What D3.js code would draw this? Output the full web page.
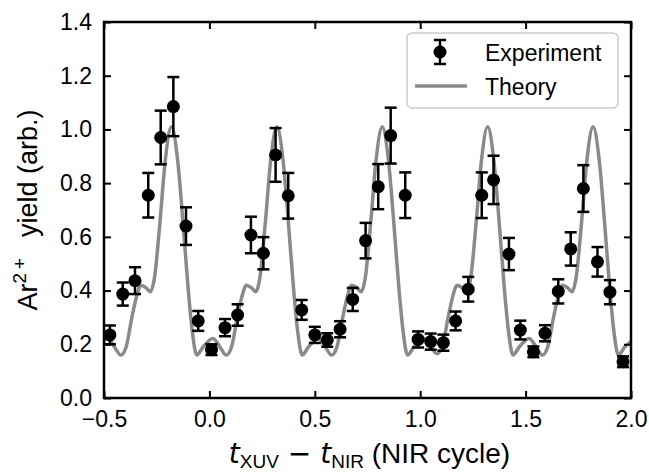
<!DOCTYPE html>
<html>
<head>
<meta charset="utf-8">
<script src="https://cdn.jsdelivr.net/npm/d3@7"></script>
<style>
  body { margin: 0; background: #fff; }
  svg { font-family: "Liberation Sans", Arial, sans-serif; }
</style>
</head>
<body>
<div class="chart"></div>
<script>
// experiment points (delay in NIR cycles, yield, error)
const expX = [-0.472, -0.411, -0.353, -0.29, -0.231, -0.171, -0.111, -0.053, 0.01, 0.074,
  0.134, 0.197, 0.256, 0.314, 0.374, 0.438, 0.50, 0.559, 0.62, 0.68,
  0.741, 0.801, 0.86, 0.929, 0.99, 1.05, 1.11, 1.168, 1.228, 1.292,
  1.348, 1.421, 1.475, 1.537, 1.592, 1.655, 1.714, 1.774, 1.841, 1.90, 1.962];
const expY = [0.235, 0.387, 0.437, 0.755, 0.97, 1.085, 0.64, 0.287, 0.18, 0.262,
  0.309, 0.607, 0.539, 0.905, 0.753, 0.328, 0.235, 0.216, 0.256, 0.367,
  0.586, 0.787, 0.977, 0.755, 0.218, 0.21, 0.206, 0.287, 0.405, 0.755,
  0.812, 0.536, 0.253, 0.172, 0.241, 0.397, 0.555, 0.78, 0.507, 0.394, 0.135];
const expErr = [0.035, 0.043, 0.05, 0.083, 0.10, 0.11, 0.07, 0.037, 0.02, 0.032,
  0.04, 0.068, 0.06, 0.10, 0.085, 0.037, 0.03, 0.025, 0.03, 0.043,
  0.066, 0.084, 0.104, 0.085, 0.03, 0.03, 0.03, 0.035, 0.046, 0.085,
  0.09, 0.06, 0.035, 0.02, 0.03, 0.045, 0.062, 0.087, 0.055, 0.045, 0.02];

// theory curve
const theoryX = [-0.5, -0.483,
  -0.45, -0.42, -0.395, -0.37, -0.345, -0.325, -0.30, -0.28, -0.26, -0.235, -0.21, -0.18, -0.15, -0.125, -0.10, -0.08, -0.06, -0.03, 0.017,
  0.05, 0.08, 0.105, 0.13, 0.155, 0.175, 0.20, 0.22, 0.24, 0.265, 0.29, 0.32, 0.35, 0.375, 0.40, 0.42, 0.44, 0.47, 0.517,
  0.55, 0.58, 0.605, 0.63, 0.655, 0.675, 0.70, 0.72, 0.74, 0.765, 0.79, 0.82, 0.85, 0.875, 0.90, 0.92, 0.94, 0.97, 1.017,
  1.05, 1.08, 1.105, 1.13, 1.155, 1.175, 1.20, 1.22, 1.24, 1.265, 1.29, 1.32, 1.35, 1.375, 1.40, 1.42, 1.44, 1.47, 1.517,
  1.55, 1.58, 1.605, 1.63, 1.655, 1.675, 1.70, 1.72, 1.74, 1.765, 1.79, 1.82, 1.85, 1.875, 1.90, 1.92, 1.94, 1.97, 2.0];
const theoryY = [0.215, 0.222,
  0.19, 0.16, 0.19, 0.29, 0.38, 0.42, 0.41, 0.396, 0.45, 0.65, 0.88, 1.01, 0.88, 0.65, 0.40, 0.24, 0.16, 0.19, 0.222,
  0.19, 0.16, 0.19, 0.29, 0.38, 0.42, 0.41, 0.396, 0.45, 0.65, 0.88, 1.01, 0.88, 0.65, 0.40, 0.24, 0.16, 0.19, 0.222,
  0.19, 0.16, 0.19, 0.29, 0.38, 0.42, 0.41, 0.396, 0.45, 0.65, 0.88, 1.01, 0.88, 0.65, 0.40, 0.24, 0.16, 0.19, 0.222,
  0.19, 0.165, 0.19, 0.29, 0.38, 0.42, 0.41, 0.396, 0.45, 0.65, 0.88, 1.01, 0.88, 0.65, 0.40, 0.24, 0.16, 0.19, 0.222,
  0.19, 0.16, 0.19, 0.29, 0.38, 0.42, 0.41, 0.396, 0.45, 0.65, 0.88, 1.01, 0.88, 0.65, 0.40, 0.24, 0.16, 0.19, 0.21];

const xTicks = [-0.5, 0.0, 0.5, 1.0, 1.5, 2.0];
const yTicks = [0.0, 0.2, 0.4, 0.6, 0.8, 1.0, 1.2, 1.4];

const width = 649;
const height = 474;
const mLeft = 104, mRight = 631, mTop = 22, mBottom = 398;

const svg = d3.select('.chart')
  .append('svg')
  .attr('width', width)
  .attr('height', height)

const x = d3.scaleLinear().domain([-0.5, 2.0]).range([mLeft, mRight]);
const y = d3.scaleLinear().domain([0, 1.4]).range([mBottom, mTop]);
const fmt = d3.format('.1f');

// theory line
const theory = theoryX.map((d, i) => ({x: d, y: theoryY[i]}));
svg.append('path')
  .datum(theory)
  .attr('fill', 'none')
  .attr('stroke', '#8a8a8a')
  .attr('stroke-width', 3.5)
  .attr('d', d3.line().x(d => x(d.x)).y(d => y(d.y)).curve(d3.curveMonotoneX));

// experiment with error bars
const points = expX.map((d, i) => ({x: d, y: expY[i], e: expErr[i]}));
const pts = svg.append('g').selectAll('g')
  .data(points)
  .enter()
  .append('g')
  .attr('stroke', '#000')
  .attr('stroke-width', 2.5);

pts.append('line')
  .attr('x1', d => x(d.x)).attr('x2', d => x(d.x))
  .attr('y1', d => y(d.y - d.e)).attr('y2', d => y(d.y + d.e));
pts.append('line')
  .attr('x1', d => x(d.x) - 6).attr('x2', d => x(d.x) + 6)
  .attr('y1', d => y(d.y + d.e)).attr('y2', d => y(d.y + d.e));
pts.append('line')
  .attr('x1', d => x(d.x) - 6).attr('x2', d => x(d.x) + 6)
  .attr('y1', d => y(d.y - d.e)).attr('y2', d => y(d.y - d.e));
pts.append('circle')
  .attr('cx', d => x(d.x))
  .attr('cy', d => y(d.y))
  .attr('r', 6.5)
  .attr('stroke', 'none')
  .attr('fill', '#000');

// axes, ticks pointing inward on all sides
function styleAxis(g) {
  g.select('.domain').remove();
  g.selectAll('.tick line').attr('stroke', '#000').attr('stroke-width', 2);
  g.selectAll('.tick text').attr('font-size', 23).attr('fill', '#000')
    .attr('font-family', '"Liberation Sans", Arial, sans-serif');
}

svg.append('g')
  .attr('transform', `translate(0,${mBottom})`)
  .call(d3.axisBottom(x).tickValues(xTicks).tickFormat(fmt).tickSize(-7).tickPadding(13))
  .call(styleAxis);
svg.append('g')
  .attr('transform', `translate(0,${mTop})`)
  .call(d3.axisTop(x).tickValues(xTicks).tickFormat('').tickSize(-7))
  .call(styleAxis);
svg.append('g')
  .attr('transform', `translate(${mLeft},0)`)
  .call(d3.axisLeft(y).tickValues(yTicks).tickFormat(fmt).tickSize(-7).tickPadding(12))
  .call(styleAxis);
svg.append('g')
  .attr('transform', `translate(${mRight},0)`)
  .call(d3.axisRight(y).tickValues(yTicks).tickFormat('').tickSize(-7))
  .call(styleAxis);

svg.append('rect')
  .attr('x', mLeft).attr('y', mTop)
  .attr('width', mRight - mLeft).attr('height', mBottom - mTop)
  .attr('fill', 'none')
  .attr('stroke', '#000')
  .attr('stroke-width', 2.5);

// legend
const lg = svg.append('g');
lg.append('rect')
  .attr('x', 407).attr('y', 33)
  .attr('width', 211).attr('height', 75)
  .attr('rx', 5)
  .attr('fill', '#fff').attr('fill-opacity', 0.8)
  .attr('stroke', '#cccccc').attr('stroke-width', 1.5);
lg.append('line').attr('x1', 440).attr('x2', 440).attr('y1', 40).attr('y2', 64)
  .attr('stroke', '#000').attr('stroke-width', 2.5);
lg.append('line').attr('x1', 434).attr('x2', 446).attr('y1', 40).attr('y2', 40)
  .attr('stroke', '#000').attr('stroke-width', 2.5);
lg.append('line').attr('x1', 434).attr('x2', 446).attr('y1', 64).attr('y2', 64)
  .attr('stroke', '#000').attr('stroke-width', 2.5);
lg.append('circle').attr('cx', 440).attr('cy', 52).attr('r', 6.5).attr('fill', '#000');
lg.append('line').attr('x1', 415).attr('x2', 467).attr('y1', 86).attr('y2', 86)
  .attr('stroke', '#8a8a8a').attr('stroke-width', 3.5);
lg.append('text').attr('x', 485).attr('y', 61).attr('font-size', 23).text('Experiment');
lg.append('text').attr('x', 485).attr('y', 95).attr('font-size', 23).text('Theory');

// axis labels
const xl = svg.append('text')
  .attr('x', (mLeft + mRight) / 2 + 2)
  .attr('y', 463)
  .attr('text-anchor', 'middle')
  .attr('font-size', 28);
xl.append('tspan').attr('font-family', '"DejaVu Sans"').attr('font-style', 'italic').text('t');
xl.append('tspan').attr('font-size', 19).attr('dy', 5).text('XUV');
xl.append('tspan').attr('dy', -5).attr('font-family', '"DejaVu Sans"').text(' − ');
xl.append('tspan').attr('font-family', '"DejaVu Sans"').attr('font-style', 'italic').text('t');
xl.append('tspan').attr('font-size', 19).attr('dy', 5).text('NIR');
xl.append('tspan').attr('dy', -5).text(' (NIR cycle)');

const yl = svg.append('text')
  .attr('transform', `translate(37,${(mTop + mBottom) / 2}) rotate(-90)`)
  .attr('text-anchor', 'middle')
  .attr('font-size', 27);
yl.append('tspan').text('Ar');
yl.append('tspan').attr('font-size', 19).attr('dy', -11).text('2\u2009+');
yl.append('tspan').attr('dy', 11).text('\u2002 yield (arb.)');
</script>
</body>
</html>
